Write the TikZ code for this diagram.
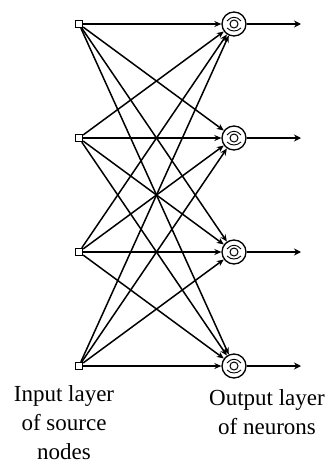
\documentclass[tikz,border=0pt]{standalone}
\usepackage{fontspec}
\setmainfont{Liberation Serif}
\usetikzlibrary{arrows.meta}
\begin{document}
\begin{tikzpicture}[x=1pt,y=-1pt,
  inp/.style={draw,fill=white,line width=1.3pt,minimum size=7pt,inner sep=0pt},
  neuron/.style={draw,fill=white,circle,line width=1.3pt,minimum size=24pt,inner sep=0pt},
  conn/.style={line width=1.5pt,-{Stealth[length=7pt,width=6pt]}},
  outconn/.style={line width=1.8pt,-{Stealth[length=7pt,width=7pt]}},
  lbl/.style={font=\fontsize{23}{29}\selectfont,align=center,anchor=north,inner sep=0pt}]
\useasboundingbox (0,0) rectangle (332,463);
\foreach \i/\y in {1/24,2/138,3/252,4/366}{
  \node[inp] (i\i) at (79,\y) {};
  \node[neuron] (n\i) at (234,\y) {};
  \coordinate (o\i) at (301,\y);
}
\foreach \i in {1,...,4}{
  \foreach \j in {1,...,4}{
    \draw[conn] (i\i) -- (n\j);
  }
}
\foreach \i in {1,...,4}{
  \draw[outconn] (n\i) -- (o\i);
  \draw[line width=1pt] (n\i.center) circle (4pt);
  \draw[line width=0.9pt] ([shift={(-7,-3)}]n\i.center) .. controls ([shift={(-3,-8)}]n\i.center) and ([shift={(3,-8)}]n\i.center) .. ([shift={(7,-3)}]n\i.center);
  \draw[line width=0.9pt] ([shift={(-7,4)}]n\i.center) .. controls ([shift={(-3,8)}]n\i.center) and ([shift={(3,8)}]n\i.center) .. ([shift={(7,4)}]n\i.center);
}
\node[lbl] (tin) at (64,385) {Input layer\\of source\\nodes};
\node[lbl] (tout) at (267,389) {Output layer\\of neurons};
\end{tikzpicture}
\end{document}
